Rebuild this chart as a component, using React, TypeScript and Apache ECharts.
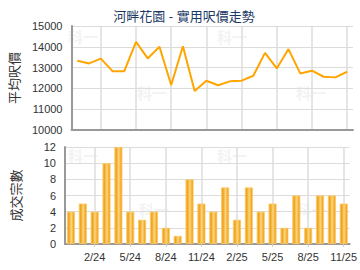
import React, { useEffect, useRef } from "react";
import * as echarts from "echarts";

const months = [
  "12/23", "1/24", "2/24", "3/24", "4/24", "5/24", "6/24", "7/24", "8/24", "9/24", "10/24", "11/24",
  "12/24", "1/25", "2/25", "3/25", "4/25", "5/25", "6/25", "7/25", "8/25", "9/25", "10/25", "11/25",
];
const avgPrice = [
  13330, 13200, 13430, 12830, 12830, 14240, 13440, 14000, 12160, 14030, 11880, 12370,
  12150, 12340, 12370, 12610, 13710, 12960, 13890, 12720, 12850, 12560, 12530, 12800,
];
const deals = [4, 5, 4, 10, 12, 4, 3, 4, 2, 1, 8, 5, 4, 7, 3, 7, 4, 5, 2, 6, 2, 6, 6, 5];

const title = "河畔花園 - 實用呎價走勢";
const priceAxisName = "平均呎價";
const dealsAxisName = "成交宗數";
const watermark = "科一";

const FONT = "'Liberation Sans', Arial, 'Noto Sans CJK TC', sans-serif";

export default function App() {
  const ref = useRef<HTMLDivElement>(null);
  useEffect(() => {
    if (!ref.current) return;
    const chart = echarts.init(ref.current, undefined, { renderer: "svg" });
    const labelShown = (i: number) => i % 3 === 2;
    const gridLine = { show: true, interval: (i: number) => labelShown(i), alignWithLabel: true, lineStyle: { color: "#dcdcdc", width: 1.5 } };
    const wm = (x: number, y: number) => ({
      type: "text", x, y, z: -10, silent: true,
      style: { text: watermark, fill: "#f3f3f3", font: `bold 15px 'Noto Sans CJK TC', sans-serif` },
    });
    chart.setOption({
      animation: false,
      title: {
        text: title, left: 179, textAlign: "center", top: 5,
        textStyle: { fontSize: 13, fontWeight: "normal", color: "#1d3a66", fontFamily: FONT },
      },
      graphic: [wm(68, 29), wm(217, 29), wm(137, 85), wm(296, 85), wm(68, 148), wm(217, 148), wm(139, 202), wm(296, 202)],
      grid: [
        { left: 65, right: 7, top: 26, height: 104 },
        { left: 65, right: 7, top: 147, height: 97 },
      ],
      xAxis: [
        {
          type: "category", gridIndex: 0, data: months, boundaryGap: true,
          axisLine: { lineStyle: { color: "#999", width: 2 } },
          axisTick: { show: false }, axisLabel: { show: false },
          splitLine: gridLine,
        },
        {
          type: "category", gridIndex: 1, data: months, boundaryGap: true,
          axisLine: { lineStyle: { color: "#999", width: 2 } },
          axisTick: { show: true, alignWithLabel: true, interval: (i: number) => labelShown(i), length: 3, lineStyle: { color: "#ccc" } },
          axisLabel: { interval: (i: number) => labelShown(i), fontSize: 11, color: "#333", margin: 7, fontFamily: FONT },
          splitLine: gridLine,
        },
      ],
      yAxis: [
        {
          type: "value", gridIndex: 0, min: 10000, max: 15000, interval: 1000,
          name: priceAxisName, nameLocation: "middle", nameGap: 42, nameRotate: 90,
          nameTextStyle: { fontSize: 13, color: "#333", fontFamily: FONT },
          axisLine: { show: true, lineStyle: { color: "#999", width: 2 } },
          axisTick: { show: false },
          axisLabel: { fontSize: 11, color: "#333", margin: 9, fontFamily: FONT, formatter: (v: number) => String(v) },
          splitLine: { show: true, lineStyle: { color: "#dcdcdc", width: 1 } },
        },
        {
          type: "value", gridIndex: 1, min: 0, max: 12, interval: 2,
          name: dealsAxisName, nameLocation: "middle", nameGap: 42, nameRotate: 90,
          nameTextStyle: { fontSize: 13, color: "#333", fontFamily: FONT },
          axisLine: { show: true, lineStyle: { color: "#999", width: 2 } },
          axisTick: { show: false },
          axisLabel: { fontSize: 11, color: "#333", margin: 9, fontFamily: FONT, formatter: (v: number) => String(v) },
          splitLine: { show: true, lineStyle: { color: "#dcdcdc", width: 1 } },
        },
      ],
      series: [
        {
          type: "line", xAxisIndex: 0, yAxisIndex: 0, data: avgPrice,
          symbol: "none", lineStyle: { color: "#ffa500", width: 2 },
        },
        {
          type: "bar", xAxisIndex: 1, yAxisIndex: 1, data: deals, barWidth: 8,
          itemStyle: {
            color: new echarts.graphic.LinearGradient(0, 0, 1, 0, [
              { offset: 0, color: "#f7b73a" },
              { offset: 0.2, color: "#eea21a" },
              { offset: 0.55, color: "#fdd57f" },
              { offset: 0.85, color: "#f3ab2a" },
              { offset: 1, color: "#eb9d12" },
            ]),
            borderColor: "#fbc860", borderWidth: 0.8,
          },
        },
      ],
    });
    return () => chart.dispose();
  }, []);
  return <div ref={ref} style={{ position: "fixed", left: 0, top: 0, width: 360, height: 270, background: "#fff" }} />;
}
